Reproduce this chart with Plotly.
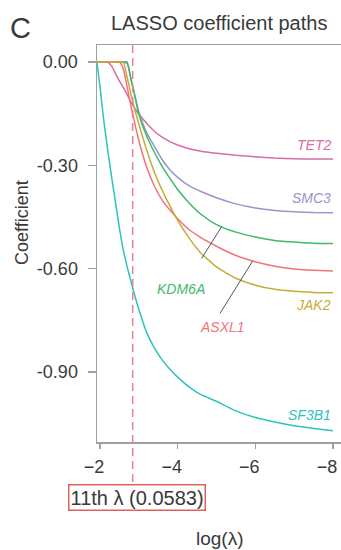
import numpy as np
import plotly.graph_objects as go

# ---------------- data ----------------
log_lambda = [-1.92, -2.0, -2.1, -2.2, -2.3, -2.4, -2.5, -2.6, -2.7, -2.8, -2.9, -3.0,
              -3.2, -3.4, -3.6, -3.8, -4.0, -4.3, -4.6, -5.0, -5.5, -6.0, -6.5, -7.0, -7.5, -8.0]

coef_tet2 = [0, 0, 0, 0, -0.012, -0.033, -0.055, -0.074, -0.095, -0.117, -0.135, -0.151,
             -0.178, -0.201, -0.218, -0.231, -0.241, -0.252, -0.259, -0.265, -0.271, -0.275,
             -0.279, -0.281, -0.282, -0.282]
coef_smc3 = [0, 0, 0, 0, 0, 0, 0, 0, -0.005, -0.052, -0.099, -0.145,
             -0.205, -0.245, -0.283, -0.313, -0.335, -0.360, -0.376, -0.394, -0.412, -0.424,
             -0.431, -0.435, -0.437, -0.4375]
coef_kdm6a = [0, 0, 0, 0, 0, 0, 0, 0, 0, -0.050, -0.100, -0.152,
              -0.215, -0.262, -0.303, -0.338, -0.370, -0.410, -0.442, -0.472, -0.494, -0.508,
              -0.518, -0.523, -0.526, -0.527]
coef_asxl1 = [0, 0, 0, 0, 0, 0, 0, -0.020, -0.073, -0.130, -0.180, -0.228,
              -0.305, -0.360, -0.401, -0.430, -0.455, -0.487, -0.510, -0.535, -0.562, -0.580,
              -0.593, -0.601, -0.605, -0.607]
coef_jak2 = [0, 0, 0, 0, 0, 0, 0, 0, -0.045, -0.095, -0.140, -0.180,
             -0.255, -0.320, -0.372, -0.418, -0.460, -0.512, -0.555, -0.595, -0.628, -0.648,
             -0.660, -0.666, -0.669, -0.670]
coef_sf3b1 = [0, -0.072, -0.172, -0.257, -0.335, -0.408, -0.482, -0.546, -0.595, -0.638, -0.680, -0.718,
              -0.785, -0.830, -0.865, -0.892, -0.915, -0.944, -0.966, -0.985, -1.013, -1.032,
              -1.045, -1.056, -1.064, -1.071]

gene_names = ["TET2", "SMC3", "KDM6A", "ASXL1", "JAK2", "SF3B1"]
selected_lambda = 0.0583
selected_label = "11th λ (0.0583)"

y_tick_vals = [0.0, -0.3, -0.6, -0.9]
y_tick_text = ["0.00", "-0.30", "-0.60", "-0.90"]
x_tick_vals = [-2, -4, -6, -8]
x_tick_text = ["−2", "−4", "−6", "−8"]

# ---------------- styling ----------------
FONT = "Liberation Sans, Arial, Helvetica, sans-serif"
TXT = "#3a3a3a"
AXIS = "#a0a0a0"
colors = {
    "TET2": "#D86CA6",
    "SMC3": "#9B93CB",
    "KDM6A": "#3DBA6A",
    "ASXL1": "#EF747C",
    "JAK2": "#C3AD38",
    "SF3B1": "#2DC3BD",
}
series = {
    "TET2": coef_tet2,
    "SMC3": coef_smc3,
    "KDM6A": coef_kdm6a,
    "ASXL1": coef_asxl1,
    "JAK2": coef_jak2,
    "SF3B1": coef_sf3b1,
}

fig = go.Figure()
for g in gene_names:
    fig.add_trace(go.Scatter(
        x=log_lambda, y=series[g], mode="lines", name=g,
        line=dict(color=colors[g], width=1.5, shape="spline", smoothing=0.5),
        showlegend=False, hoverinfo="skip"))

# geometry (pixels)
W, H = 341, 550
ML, MR, MT, MB = 97, 0, 45, 108
PW, PH = W - ML - MR, H - MT - MB


def px_to_paper(px, py):
    return (px - ML) / PW, (H - MB - py) / PH


# right-hand labels: (gene, y value of the label)
right_labels = [("TET2", -0.241), ("SMC3", -0.395), ("JAK2", -0.706), ("SF3B1", -1.025)]
annotations = []
for g, yv in right_labels:
    annotations.append(dict(x=log_lambda[-1], y=yv, xref="x", yref="y", text=g,
                            showarrow=False, xanchor="right", yanchor="middle",
                            font=dict(family=FONT, size=14, color=colors[g])))

# leader-line labels: (gene, anchor log lambda, label log lambda, label value, line end log lambda, line end value)
leader_labels = [
    ("KDM6A", -5.134, -4.086, -0.659, -4.62, -0.570),
    ("ASXL1", -5.933, -5.142, -0.769, -5.09, -0.730),
]
shapes = []
for g, xa, xl, yl, xe, ye in leader_labels:
    ya = float(np.interp(-xa, [-v for v in log_lambda], series[g]))
    shapes.append(dict(type="line", xref="x", yref="y", x0=xa, y0=ya, x1=xe, y1=ye,
                       line=dict(color="#555555", width=1)))
    annotations.append(dict(x=xl, y=yl, xref="x", yref="y", text=g, showarrow=False,
                            xanchor="center", yanchor="middle",
                            font=dict(family=FONT, size=14, color=colors[g])))

# italic labels via HTML
for a in annotations:
    a["text"] = "<i>" + a["text"] + "</i>"

# dashed selected-lambda line down to the box
x_sel = float(np.log(selected_lambda))
_, box_top = px_to_paper(0, 483)
shapes.append(dict(type="line", xref="x", yref="paper", x0=x_sel, x1=x_sel, y0=1, y1=box_top,
                   line=dict(color="#E8828F", width=1.5, dash="8px,5px")))

_, box_mid = px_to_paper(0, 497)
annotations.append(dict(x=x_sel, y=box_mid, xref="x", yref="paper", xshift=4,
                        text=selected_label, showarrow=False, xanchor="center", yanchor="middle",
                        font=dict(family=FONT, size=20, color=TXT),
                        bordercolor="#E0605E", borderwidth=1.5, borderpad=1, bgcolor="white"))

# titles
tx, ty = px_to_paper(219, 23)
annotations.append(dict(x=tx, y=ty, xref="paper", yref="paper", text="LASSO coefficient paths",
                        showarrow=False, xanchor="center", yanchor="middle",
                        font=dict(family=FONT, size=20, color=TXT)))
cx, cy = px_to_paper(20, 28)
annotations.append(dict(x=cx, y=cy, xref="paper", yref="paper", text="C",
                        showarrow=False, xanchor="center", yanchor="middle",
                        font=dict(family=FONT, size=29, color=TXT)))
yx, yy = px_to_paper(22, 223)
annotations.append(dict(x=yx, y=yy, xref="paper", yref="paper", text="Coefficient",
                        showarrow=False, xanchor="center", yanchor="middle", textangle=-90,
                        font=dict(family=FONT, size=18, color=TXT)))
lx, ly = px_to_paper(220, 538)
annotations.append(dict(x=lx, y=ly, xref="paper", yref="paper", text="log(λ)",
                        showarrow=False, xanchor="center", yanchor="middle",
                        font=dict(family=FONT, size=19, color=TXT)))

# axis ranges from pixel calibration
x_left = -2 + 3 / 38.83
x_right = x_left - PW / 38.83
y_top = 17 / 344.4
y_bottom = y_top - PH / 344.4

fig.update_layout(
    width=W, height=H, autosize=False,
    margin=dict(l=ML, r=MR, t=MT, b=MB, pad=0),
    paper_bgcolor="white", plot_bgcolor="white",
    font=dict(family=FONT, color=TXT),
    shapes=shapes, annotations=annotations,
    xaxis=dict(range=[x_left, x_right], tickvals=x_tick_vals, ticktext=x_tick_text,
               showgrid=False, zeroline=False, showline=True, linecolor=AXIS, linewidth=1.5,
               mirror=True, ticks="outside", ticklen=5, tickwidth=1.2, tickcolor=AXIS,
               automargin=False, ticklabeloverflow="allow",
               ticklabelshift=6, ticklabelstandoff=3,
               tickfont=dict(family=FONT, size=18, color=TXT)),
    yaxis=dict(range=[y_bottom, y_top], tickvals=y_tick_vals, ticktext=y_tick_text,
               showgrid=False, zeroline=False, showline=True, linecolor=AXIS, linewidth=1.5,
               ticks="outside", ticklen=8, tickwidth=1.2, tickcolor=AXIS,
               ticklabelstandoff=6, automargin=False, ticklabeloverflow="allow",
               tickfont=dict(family=FONT, size=18, color=TXT)),
)

fig.write_html("out.html", config={"displayModeBar": False, "staticPlot": True},
               post_script="document.body.style.margin='0';document.body.style.overflow='hidden';")
